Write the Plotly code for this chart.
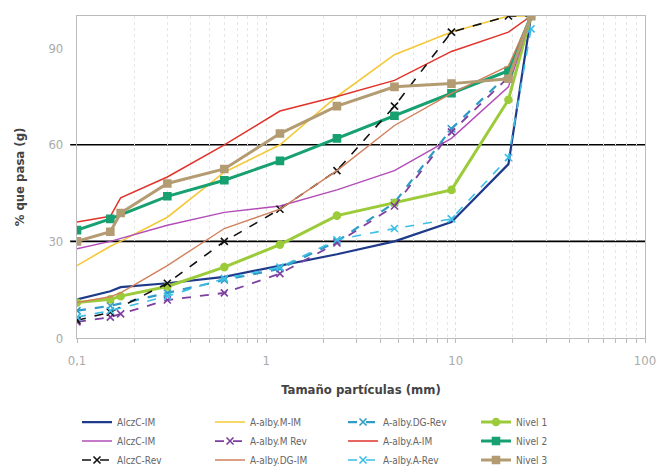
import plotly.graph_objects as go

SIEVES = [0.1, 0.15, 0.17, 0.3, 0.6, 1.18, 2.36, 4.75, 9.5, 19, 25]

alczc_im_a = [12, 14.5, 15.8, 17, 19, 22.5, 26, 30, 36, 54, 100]
alby_m_im = [22.5, 28.5, 30, 37.5, 51.5, 60, 75, 88, 95, 100, 100]
alby_dg_rev = [8.5, 10, None, 14, 18, 21.5, 30, 42, 65, 82, 100]
nivel_1 = [11, 12, 13, 16, 22, 29, 38, 42, 46, 74, 100]
alczc_im_b = [27.7, 30, None, 35, 39, 41, 46, 52, 62, 78, 100]
alby_m_rev = [5, 6.5, 7.5, 11.8, 14, 20, 29.5, 41, 64, 81, 100]
alby_a_im = [36, 37.8, 43.5, 50, 60, 70.5, 75, 80, 89, 95, 100]
nivel_2 = [33.5, 37, None, 44, 49, 55, 62, 69, 76, 83, 100]
alczc_rev = [5.5, 8, None, 17, 30, 40, 52, 72, 95, 100, 100]
alby_dg_im = [11, 12.8, 14, 22.5, 34, 40, 52, 66, 76, 84.5, 100]
alby_a_rev = [6.5, 8.5, None, 13, 18.5, 22, 30.5, 34, 37, 56, 96]
nivel_3 = [30, 33, 38.8, 48, 52.5, 63.5, 72, 78, 79, 80.5, 100]

X_TICKS = [0.1, 1, 10, 100]
X_TICK_TEXT = ["0,1", "1", "10", "100"]
X_MINOR = [m * d for d in (0.1, 1, 10) for m in range(2, 10)]
Y_TICKS = [0, 30, 60, 90]

names = ["AlczC-IM", "A-alby.M-IM", "A-alby.DG-Rev", "Nivel 1",
         "AlczC-IM", "A-alby.M Rev", "A-alby.A-IM", "Nivel 2",
         "AlczC-Rev", "A-alby.DG-IM", "A-alby.A-Rev", "Nivel 3"]
series = [alczc_im_a, alby_m_im, alby_dg_rev, nivel_1,
          alczc_im_b, alby_m_rev, alby_a_im, nivel_2,
          alczc_rev, alby_dg_im, alby_a_rev, nivel_3]
styles = [
    dict(color="#1f3a8a", width=2.2, dash="solid", symbol=None),
    dict(color="#f5c838", width=1.6, dash="solid", symbol=None),
    dict(color="#2e9cc4", width=2.2, dash="dash", symbol="x-thin-open"),
    dict(color="#9ccb3a", width=3, dash="solid", symbol="circle"),
    dict(color="#b24cb8", width=1.4, dash="solid", symbol=None),
    dict(color="#7d3f9f", width=1.8, dash="dash", symbol="x-thin-open"),
    dict(color="#e0332b", width=1.5, dash="solid", symbol=None),
    dict(color="#17a070", width=3, dash="solid", symbol="square"),
    dict(color="#111111", width=1.6, dash="dash", symbol="x-thin-open"),
    dict(color="#d0805c", width=1.4, dash="solid", symbol=None),
    dict(color="#3cbfe6", width=1.6, dash="dash", symbol="x-thin-open"),
    dict(color="#b39b72", width=3, dash="solid", symbol="square"),
]

fig = go.Figure()
for name, ys, st in zip(names, series, styles):
    mode = "lines+markers" if st["symbol"] else "lines"
    marker = dict(symbol=st["symbol"] or "circle", size=7, color=st["color"],
                  line=dict(width=1.6, color=st["color"]))
    fig.add_trace(go.Scatter(
        x=SIEVES, y=ys, name=name, mode=mode, connectgaps=True,
        line=dict(color=st["color"], width=st["width"], dash=st["dash"]),
        marker=marker))

for yv in [30, 60]:
    fig.add_shape(type="line", xref="paper", yref="y", x0=-0.012, x1=1,
                  y0=yv, y1=yv, line=dict(color="black", width=1.6), layer="below")

font_family = "DejaVu Sans Condensed, Liberation Sans Narrow, Roboto, Arial"
fig.update_layout(
    width=669, height=471,
    margin=dict(l=77, r=24, t=16, b=133, autoexpand=False),
    paper_bgcolor="white", plot_bgcolor="white",
    font=dict(family=font_family, color="#999999", size=12),
    xaxis=dict(
        type="log", range=[-1, 2],
        tickmode="array", tickvals=X_TICKS, ticktext=X_TICK_TEXT,
        showgrid=True, gridcolor="#e0e0e0", griddash="dot", gridwidth=1,
        minor=dict(tickmode="array", tickvals=X_MINOR, showgrid=True,
                   gridcolor="#e6e6e6", griddash="dot",
                   ticks="outside", ticklen=4, tickcolor="#bbbbbb"),
        ticks="outside", ticklen=4, tickcolor="#bbbbbb",
        showline=True, linecolor="#bbbbbb", linewidth=1.2, mirror=True,
        tickfont=dict(size=13, color="#aaaaaa"), ticklabelstandoff=6,
        title=dict(text="<b>Tamaño partículas (mm)</b>",
                   font=dict(size=13, color="#444444"), standoff=18),
        zeroline=False, automargin=False,
    ),
    yaxis=dict(
        range=[0, 100], tickmode="array", tickvals=Y_TICKS,
        showgrid=False, zeroline=False,
        showline=True, linecolor="#bbbbbb", linewidth=1.2, mirror=True,
        tickfont=dict(size=13, color="#aaaaaa"), ticklabelstandoff=10,
        title=dict(text="<b>% que pasa (g)</b>",
                   font=dict(size=13, color="#444444"), standoff=20),
        automargin=False,
    ),
    legend=dict(
        orientation="h", x=0.0, xanchor="left", y=-0.216, yanchor="top",
        entrywidth=88, entrywidthmode="pixels",
        font=dict(size=10, color="#666666", family=font_family),
        tracegroupgap=0, itemwidth=30,
    ),
)

fig.write_html("out.html")
